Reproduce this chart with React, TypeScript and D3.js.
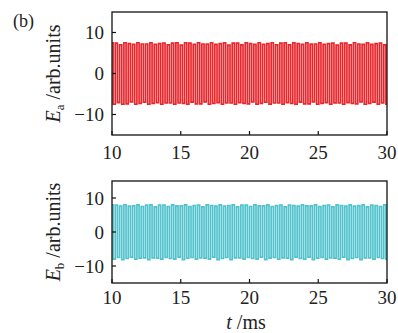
import React from "react";
import * as d3 from "d3";

// time axis (ms)
const tStart = 10;
const tEnd = 30;
const xTicks = [10, 15, 20, 25, 30];
const yTicks = [10, 0, -10];

// successive extrema of the oscillation (arb. units)
const eaPeaks = [
  7.5, -7.5, 7.4, -7.1, 7.0, -7.5, 7.5, -7.4, 7.3, -6.9,
  7.1, -7.5, 7.5, -7.3, 7.2, -7.0, 7.2, -7.5, 7.5, -7.3,
  7.1, -7.1, 7.3, -7.5, 7.4, -7.2, 7.0, -7.2, 7.4, -7.5,
  7.5, -7.2, 6.9, -7.3, 7.5, -7.5, 7.4, -7.0, 7.1, -7.4,
  7.5, -7.4, 7.2, -6.9, 7.2, -7.5, 7.5, -7.3, 7.1, -7.1,
  7.3, -7.5, 7.5, -7.2, 6.9, -7.2, 7.4, -7.5, 7.4, -7.1,
  7.0, -7.3, 7.5, -7.4, 7.3, -6.9, 7.1, -7.5, 7.5, -7.3,
  7.1, -7.0, 7.3, -7.5, 7.5, -7.2, 7.0, -7.2, 7.4, -7.5,
  7.5, -7.1, 7.0, -7.3, 7.5, -7.5, 7.3, -7.0, 7.1, -7.4,
  7.5, -7.4, 7.2, -6.9, 7.2, -7.5, 7.5, -7.3, 7.1, -7.1,
  7.3, -7.5, 7.4, -7.2, 6.9, -7.2, 7.4, -7.5, 7.4, -7.1,
  7.0, -7.3, 7.5, -7.4, 7.2, -6.9, 7.1, -7.5, 7.5, -7.3,
  7.1, -7.0, 7.3, -7.5, 7.4, -7.2, 7.0, -7.5,
];

const ebPeaks = [
  8.0, -8.0, 7.9, -7.5, 7.6, -8.1, 8.0, -7.8, 7.6, -7.4,
  7.7, -8.0, 8.0, -7.7, 7.5, -7.6, 7.9, -8.1, 8.0, -7.6,
  7.4, -7.7, 7.9, -8.0, 7.9, -7.5, 7.5, -7.8, 8.0, -8.0,
  7.7, -7.4, 7.7, -8.1, 8.0, -7.7, 7.5, -7.5, 7.8, -8.0,
  7.9, -7.6, 7.4, -7.7, 8.0, -8.0, 7.8, -7.4, 7.6, -8.1,
  8.0, -7.8, 7.6, -7.5, 7.8, -8.1, 8.0, -7.6, 7.4, -7.6,
  7.9, -8.0, 7.9, -7.5, 7.5, -7.8, 8.0, -8.0, 7.7, -7.4,
  7.7, -8.1, 8.0, -7.7, 7.5, -7.5, 7.8, -8.0, 7.9, -7.6,
  7.4, -7.7, 7.9, -8.1, 7.8, -7.4, 7.6, -7.8, 8.0, -8.0,
  7.7, -7.4, 7.7, -8.1, 8.0, -7.7, 7.5, -7.5, 7.8, -8.0,
  7.9, -7.6, 7.4, -7.7, 8.0, -8.0, 7.8, -7.4, 7.6, -8.1,
  8.0, -7.8, 7.6, -7.5, 7.8, -8.1, 8.0, -7.6, 7.4, -7.6,
  7.9, -8.0, 7.8, -7.5, 7.5, -7.8, 8.0, -8.0,
];

const W = 398;
const H = 333;
const FONT = "'Liberation Serif', 'DejaVu Serif', serif";

type PanelProps = {
  top: number;
  bottom: number;
  values: number[];
  color: string;
  sub: string;
  tickGap: number;
  xTitle?: boolean;
};

const Panel = ({ top, bottom, values, color, sub, tickGap, xTitle }: PanelProps) => {
  const left = 112;
  const right = 387;
  const x = d3.scaleLinear().domain([tStart, tEnd]).range([left, right]);
  const y = d3.scaleLinear().domain([-15, 15]).range([bottom, top]);
  const step = (tEnd - tStart) / (values.length - 1);
  const line = d3
    .line<number>()
    .x((_, i) => x(tStart + i * step))
    .y((d) => y(d))
    .curve(d3.curveStep);
  const midY = (top + bottom) / 2;

  return (
    <g>
      <path d={line(values) || ""} fill="none" stroke={color} strokeWidth={1.7} />
      <rect
        x={left}
        y={top}
        width={right - left}
        height={bottom - top}
        fill="none"
        stroke="#111"
        strokeWidth={1.3}
      />
      {xTicks.map((t) => (
        <g key={t}>
          <line x1={x(t)} x2={x(t)} y1={bottom} y2={bottom - 4} stroke="#111" strokeWidth={1.2} />
          <text
            x={x(t)}
            y={bottom + tickGap}
            textAnchor="middle"
            fontSize={19}
            fontFamily={FONT}
            fill="#222"
          >
            {t}
          </text>
        </g>
      ))}
      {yTicks.map((v) => (
        <g key={v}>
          <line x1={left} x2={left + 4} y1={y(v)} y2={y(v)} stroke="#111" strokeWidth={1.2} />
          <text
            x={104}
            y={y(v)}
            dy="0.35em"
            textAnchor="end"
            fontSize={19}
            fontFamily={FONT}
            fill="#222"
          >
            {v < 0 ? `\u2212${Math.abs(v)}` : v}
          </text>
        </g>
      ))}
      <text
        transform={`translate(60,${midY}) rotate(-90)`}
        textAnchor="middle"
        fontSize={20}
        fontFamily={FONT}
        fill="#222"
      >
        <tspan fontStyle="italic">E</tspan>
        <tspan fontSize={13} dy={4}>{sub}</tspan>
        <tspan dy={-4}> /arb.units</tspan>
      </text>
      {xTitle && (
        <text
          x={246}
          y={329}
          textAnchor="middle"
          fontSize={20}
          fontFamily={FONT}
          fill="#222"
        >
          <tspan fontStyle="italic">t</tspan> /ms
        </text>
      )}
    </g>
  );
};

export default function App() {
  return (
    <svg
      width={W}
      height={H}
      style={{ position: "absolute", left: 0, top: 0, background: "#fff" }}
    >
      <text x={13} y={27} fontSize={18} fontFamily={FONT} fill="#222">
        (b)
      </text>
      <Panel top={12} bottom={135} values={eaPeaks} color="#e8262c" sub="a" tickGap={24} />
      <Panel
        top={181}
        bottom={283}
        values={ebPeaks}
        color="#52c3cd"
        sub="b"
        tickGap={21}
        xTitle
      />
    </svg>
  );
}
